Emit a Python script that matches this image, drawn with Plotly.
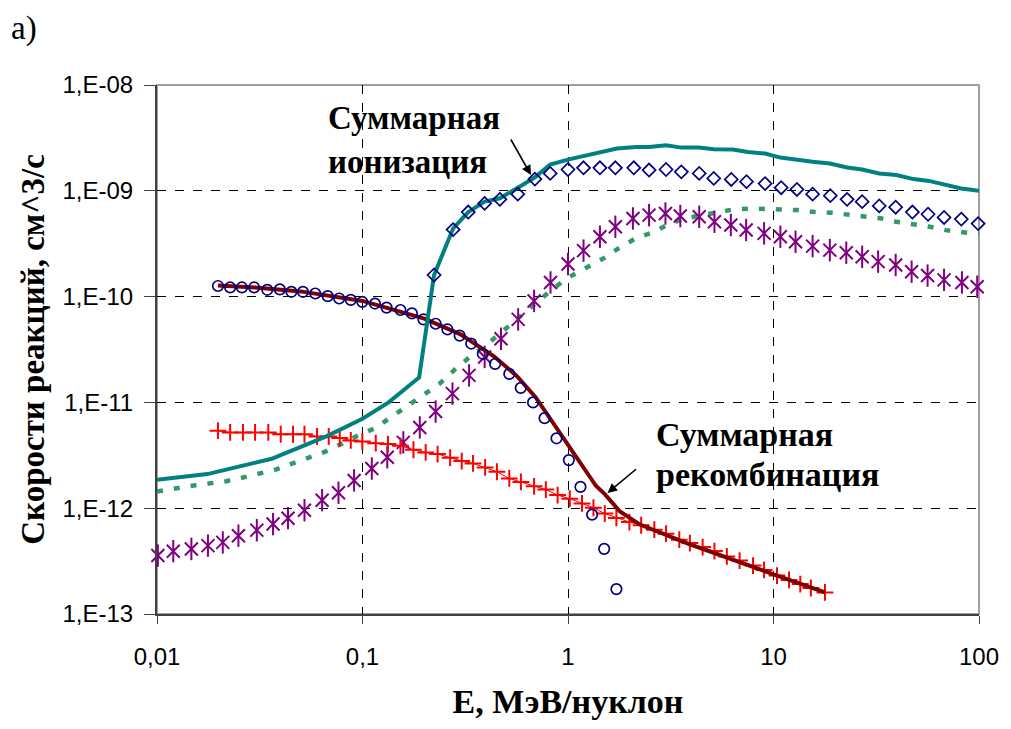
import plotly.graph_objects as go

# ---------------- data ----------------
ion_total_E = [0.01, 0.0176, 0.0361, 0.0667, 0.1, 0.134, 0.1886, 0.223, 0.276, 0.327, 0.393, 0.466,
               0.570, 0.690, 0.819, 1.01, 1.73, 2.14, 2.48, 3.0, 3.56, 4.32, 5.12, 6.33, 7.5, 9.1,
               10.8, 13.1, 15.5, 18.8, 22.8, 27, 32.7, 39.6, 48, 57, 69, 82, 100]
ion_total_V = [1.86e-12, 2.1e-12, 2.93e-12, 4.77e-12, 7.0e-12, 1.0e-11, 1.72e-11, 1.6e-10, 4.4e-10,
               6.3e-10, 7.9e-10, 8.5e-10, 1.07e-9, 1.34e-9, 1.77e-9, 1.98e-9, 2.51e-9, 2.6e-9, 2.6e-9,
               2.7e-9, 2.56e-9, 2.56e-9, 2.47e-9, 2.46e-9, 2.33e-9, 2.25e-9, 2.06e-9, 1.95e-9, 1.88e-9,
               1.81e-9, 1.66e-9, 1.59e-9, 1.46e-9, 1.41e-9, 1.29e-9, 1.24e-9, 1.13e-9, 1.05e-9, 1.0e-9]

diam_E = [0.223, 0.276, 0.327, 0.393, 0.466, 0.570, 0.690, 0.819, 1.0, 1.19, 1.43, 1.70, 2.09, 2.48,
          3.0, 3.56, 4.35, 5.12, 6.23, 7.39, 9.1, 10.9, 13.0, 15.5, 18.9, 22.8, 27, 32.7, 39.3, 47.4,
          56.5, 67.6, 82, 99]
diam_V = [1.6e-10, 4.3e-10, 6.3e-10, 7.6e-10, 8.3e-10, 9.3e-10, 1.29e-9, 1.46e-9, 1.59e-9, 1.65e-9,
          1.65e-9, 1.65e-9, 1.65e-9, 1.57e-9, 1.59e-9, 1.51e-9, 1.46e-9, 1.31e-9, 1.28e-9, 1.22e-9,
          1.17e-9, 1.07e-9, 1.03e-9, 9.3e-10, 9.0e-10, 8.3e-10, 7.9e-10, 7.2e-10, 7.0e-10, 6.3e-10,
          6.0e-10, 5.6e-10, 5.4e-10, 4.9e-10]

green_E = [0.01, 0.0124, 0.0151, 0.0182, 0.0217, 0.0259, 0.0315, 0.0379, 0.0454, 0.0542, 0.066,
           0.0794, 0.0944, 0.115, 0.137, 0.162, 0.196, 0.236, 0.281, 0.336, 0.407, 0.486, 0.589,
           0.695, 0.837, 1.0, 1.24, 1.49, 1.76, 2.16, 2.57, 3.1, 3.72, 4.5, 5.35, 6.39, 7.68, 9.2,
           11, 13.1, 15.8, 19.2, 23.3, 27.6, 33.1, 39.6, 48, 57.7, 69, 82, 100]
green_V = [1.44e-12, 1.56e-12, 1.64e-12, 1.72e-12, 1.80e-12, 1.94e-12, 2.13e-12, 2.32e-12, 2.64e-12,
           3.0e-12, 3.43e-12, 4.07e-12, 4.84e-12, 5.7e-12, 7.2e-12, 8.8e-12, 1.16e-11, 1.49e-11,
           2.04e-11, 2.73e-11, 3.58e-11, 4.82e-11, 6.55e-11, 8.6e-11, 1.17e-10, 1.51e-10, 1.88e-10,
           2.3e-10, 2.86e-10, 3.6e-10, 4.02e-10, 4.85e-10, 5.49e-10, 5.9e-10, 6.3e-10, 6.67e-10,
           6.8e-10, 6.8e-10, 6.67e-10, 6.57e-10, 6.3e-10, 6.2e-10, 5.9e-10, 5.7e-10, 5.5e-10,
           5.1e-10, 4.85e-10, 4.57e-10, 4.25e-10, 4.1e-10, 3.9e-10]

star_E = [0.0101, 0.012, 0.0147, 0.0177, 0.0209, 0.0249, 0.0306, 0.0367, 0.0434, 0.0522, 0.0636,
          0.0764, 0.091, 0.111, 0.132, 0.158, 0.19, 0.227, 0.274, 0.33, 0.393, 0.472, 0.572, 0.684,
          0.822, 1.0, 1.19, 1.43, 1.70, 2.07, 2.48, 2.98, 3.52, 4.35, 5.16, 6.2, 7.36, 9.0, 10.8,
          12.8, 15.5, 18.8, 22.6, 27, 32.3, 39.3, 47, 56.2, 67.6, 82.6, 98]
star_V = [3.57e-13, 3.92e-13, 4.12e-13, 4.43e-13, 4.75e-13, 5.5e-13, 6.2e-13, 7.08e-13, 8.05e-13,
          9.57e-13, 1.19e-12, 1.4e-12, 1.83e-12, 2.37e-12, 3.03e-12, 4.19e-12, 5.8e-12, 8.2e-12,
          1.21e-11, 1.8e-11, 2.69e-11, 3.99e-11, 6.09e-11, 9.1e-11, 1.36e-10, 2.03e-10, 2.72e-10,
          3.68e-10, 4.57e-10, 5.48e-10, 5.89e-10, 6.1e-10, 5.77e-10, 5.69e-10, 5.1e-10, 4.75e-10,
          4.26e-10, 3.96e-10, 3.68e-10, 3.3e-10, 3.0e-10, 2.75e-10, 2.6e-10, 2.38e-10, 2.14e-10,
          1.99e-10, 1.72e-10, 1.58e-10, 1.44e-10, 1.36e-10, 1.24e-10]

circ_E = [0.0198, 0.0227, 0.0259, 0.0297, 0.0344, 0.0396, 0.0451, 0.0513, 0.0589, 0.0677, 0.077,
          0.0877, 0.0998, 0.115, 0.131, 0.153, 0.174, 0.198, 0.227, 0.259, 0.297, 0.338, 0.385,
          0.442, 0.518, 0.589, 0.676, 0.769, 0.879, 1.01, 1.15, 1.31, 1.5, 1.72]
circ_V = [1.26e-10, 1.22e-10, 1.22e-10, 1.22e-10, 1.16e-10, 1.17e-10, 1.11e-10, 1.11e-10, 1.07e-10,
          1.01e-10, 9.6e-11, 9.3e-11, 8.9e-11, 8.6e-11, 7.87e-11, 7.47e-11, 6.94e-11, 6.08e-11,
          5.54e-11, 4.89e-11, 4.28e-11, 3.6e-11, 2.88e-11, 2.31e-11, 1.86e-11, 1.37e-11, 1.0e-11,
          7.1e-12, 4.58e-12, 2.85e-12, 1.59e-12, 8.7e-13, 4.13e-13, 1.72e-13]

cross_E = [0.0198, 0.0227, 0.0262, 0.030, 0.0348, 0.040, 0.0459, 0.0522, 0.0601, 0.0685, 0.0775,
           0.0877, 0.0998, 0.116, 0.133, 0.153, 0.177, 0.203, 0.232, 0.267, 0.304, 0.345, 0.395,
           0.451, 0.518, 0.59, 0.684, 0.78, 0.89, 1.02, 1.17, 1.33, 1.51, 1.72, 1.99, 2.27, 2.63,
           3.0, 3.48, 3.92, 4.52, 5.16, 5.93, 6.84, 7.95, 9.0, 10.4, 11.9, 13.5, 15.2, 17.8]
cross_V = [5.4e-12, 5.2e-12, 5.2e-12, 5.2e-12, 5.2e-12, 5.0e-12, 5.0e-12, 5.0e-12, 4.76e-12,
           4.76e-12, 4.6e-12, 4.37e-12, 4.28e-12, 4.12e-12, 4.04e-12, 3.89e-12, 3.57e-12, 3.37e-12,
           3.25e-12, 3.0e-12, 2.79e-12, 2.65e-12, 2.43e-12, 2.21e-12, 1.91e-12, 1.77e-12, 1.61e-12,
           1.5e-12, 1.33e-12, 1.23e-12, 1.11e-12, 1.01e-12, 8.9e-13, 8.1e-13, 7.4e-13, 6.9e-13,
           6.27e-13, 5.74e-13, 5.04e-13, 4.68e-13, 4.29e-13, 3.93e-13, 3.5e-13, 3.2e-13, 2.87e-13,
           2.61e-13, 2.31e-13, 2.1e-13, 1.92e-13, 1.76e-13, 1.6e-13]

rec_total_E = [0.0198, 0.03, 0.05, 0.1, 0.2, 0.3, 0.436, 0.566, 0.695, 0.99, 1.37, 1.51, 1.79,
               2.24, 3.86, 9.85, 17.8]
rec_total_V = [1.27e-10, 1.22e-10, 1.12e-10, 9.1e-11, 6.2e-11, 4.4e-11, 2.73e-11, 1.76e-11,
               1.12e-11, 4.1e-12, 1.62e-12, 1.36e-12, 9.3e-13, 7.0e-13, 4.6e-13, 2.4e-13, 1.6e-13]

x_tickvals = [0.01, 0.1, 1, 10, 100]
x_ticktext = ["0,01", "0,1", "1", "10", "100"]
y_tickvals = [1e-13, 1e-12, 1e-11, 1e-10, 1e-9, 1e-8]
y_ticktext = ["1,E-13", "1,E-12", "1,E-11", "1,E-10", "1,E-09", "1,E-08"]

# ---------------- figure ----------------
NAVY = "#000080"
PURPLE = "#800080"
RED = "#ff0000"
fig = go.Figure()

fig.add_trace(go.Scatter(x=green_E, y=green_V, mode="lines",
                         line=dict(color="#339966", width=4.5, dash="6px,11px"),
                         showlegend=False))
fig.add_trace(go.Scatter(x=star_E, y=star_V, mode="markers", cliponaxis=False,
                         marker=dict(symbol="x-thin-open", size=13, color=PURPLE,
                                     line=dict(color=PURPLE, width=2)),
                         showlegend=False))
fig.add_trace(go.Scatter(x=star_E, y=star_V, mode="markers", cliponaxis=False,
                         marker=dict(symbol="line-ns-open", size=16, color=PURPLE,
                                     line=dict(color=PURPLE, width=2)),
                         showlegend=False))
fig.add_trace(go.Scatter(x=cross_E, y=cross_V, mode="lines+markers", cliponaxis=False,
                         line=dict(color=RED, width=1),
                         marker=dict(symbol="cross-thin-open", size=12, color=RED,
                                     line=dict(color=RED, width=2)),
                         showlegend=False))
fig.add_trace(go.Scatter(x=rec_total_E, y=rec_total_V, mode="lines",
                         line=dict(color="#800000", width=4),
                         showlegend=False))
fig.add_trace(go.Scatter(x=circ_E, y=circ_V, mode="markers", cliponaxis=False,
                         marker=dict(symbol="circle-open", size=10.5, color=NAVY,
                                     line=dict(color=NAVY, width=1.7)),
                         showlegend=False))
fig.add_trace(go.Scatter(x=ion_total_E, y=ion_total_V, mode="lines",
                         line=dict(color="#008080", width=4),
                         showlegend=False))
fig.add_trace(go.Scatter(x=diam_E, y=diam_V, mode="markers", cliponaxis=False,
                         marker=dict(symbol="diamond-open", size=10, color=NAVY,
                                     line=dict(color=NAVY, width=1.7)),
                         showlegend=False))

L, R, T, B = 156.5, 984, 85, 614
W, H = 1011, 729


def px(xp):
    return (xp - L) / (R - L)


def py(yp):
    return (B - yp) / (B - T)


SERIF = "Liberation Serif"
ann_font = dict(family=SERIF, size=33, color="black")
ann_font2 = dict(family=SERIF, size=34, color="black")

annotations = [
    dict(x=px(327), y=py(118), xref="paper", yref="paper", text="<b>Суммарная</b>",
         showarrow=False, xanchor="left", yanchor="middle", font=ann_font),
    dict(x=px(327), y=py(162), xref="paper", yref="paper", text="<b>ионизация</b>",
         showarrow=False, xanchor="left", yanchor="middle", font=ann_font),
    dict(x=px(657), y=py(434), xref="paper", yref="paper", text="<b>Суммарная</b>",
         showarrow=False, xanchor="left", yanchor="middle", font=ann_font2),
    dict(x=px(657), y=py(474), xref="paper", yref="paper", text="<b>рекомбинация</b>",
         showarrow=False, xanchor="left", yanchor="middle", font=ann_font2),
    # arrows
    dict(x=px(533), y=py(175), xref="paper", yref="paper", text="", showarrow=True,
         ax=-21, ay=-37, arrowhead=2, arrowsize=1.2, arrowwidth=1.6, arrowcolor="black",
         standoff=0),
    dict(x=px(610), y=py(493), xref="paper", yref="paper", text="", showarrow=True,
         ax=30, ay=-25, arrowhead=2, arrowsize=1.2, arrowwidth=1.6, arrowcolor="black",
         standoff=0),
    dict(x=px(8), y=py(28), xref="paper", yref="paper", text="a)",
         showarrow=False, xanchor="left", yanchor="middle",
         font=dict(family=SERIF, size=33, color="black")),
]

axis_common = dict(
    showgrid=True, gridcolor="black", gridwidth=1, griddash="dash",
    showline=True, linecolor="#404040", linewidth=2,
    ticks="outside", tickcolor="#404040", tickwidth=1,
    tickfont=dict(family="Liberation Sans", size=24, color="black"),
    zeroline=False,
)

fig.update_layout(
    width=W, height=H,
    margin=dict(l=L, r=W - R, t=T, b=H - B),
    paper_bgcolor="white", plot_bgcolor="white",
    xaxis=dict(type="log", range=[-2, 2], tickvals=x_tickvals, ticktext=x_ticktext,
               title=dict(text="<b>E, МэВ/нуклон</b>", font=dict(family=SERIF, size=34,
                                                                 color="black"),
                          standoff=20),
               ticklen=8, ticklabelstandoff=12,
               **axis_common),
    yaxis=dict(type="log", range=[-13, -8], tickvals=y_tickvals, ticktext=y_ticktext,
               title=dict(text="<b>Скорости реакций, см^3/с</b>",
                          font=dict(family=SERIF, size=33, color="black"), standoff=8),
               ticklen=11, ticklabelstandoff=6,
               **axis_common),
    annotations=annotations,
    shapes=[dict(type="rect", xref="paper", yref="paper", x0=0, y0=0, x1=1, y1=1,
                 line=dict(color="#a0a0a0", width=2), layer="below")],
)

fig.write_html("out.html")
